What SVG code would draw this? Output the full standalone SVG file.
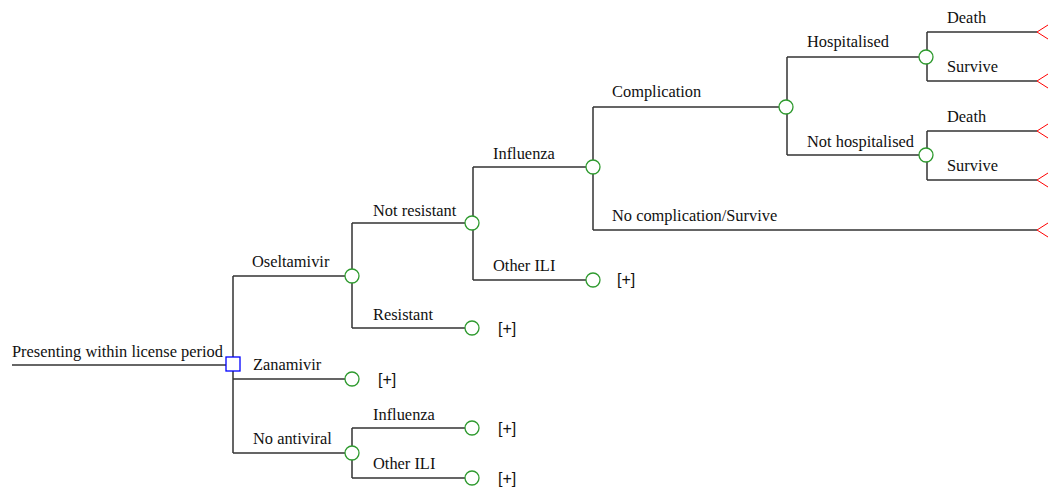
<svg xmlns="http://www.w3.org/2000/svg" width="1048" height="487" viewBox="0 0 1048 487">
<style>
.bg{fill:#ffffff}
.ln{fill:none;stroke:#333333;stroke-width:1.5}
.ch{fill:#ffffff;stroke:#2e9a2e;stroke-width:1.3}
.dc{fill:#ffffff;stroke:#0000ff;stroke-width:1.3}
.tm{fill:none;stroke:#ff0000;stroke-width:1}
.lb{font-family:"Liberation Serif","Times New Roman",serif;font-size:16.4px;fill:#111111}
.pl{font-family:"Liberation Sans",Arial,sans-serif;font-size:16px;fill:#111111}
</style>
<rect class="bg" x="0" y="0" width="1048" height="487"/>
<g id="connectors">
<path class="ln" d="M12 365H226"/>
<path class="ln" d="M233 276V453M233 276H345M233 379H345M233 453H345"/>
<path class="ln" d="M352 223V328M352 223H465M352 328H465"/>
<path class="ln" d="M473 167V280M473 167H586M473 280H586"/>
<path class="ln" d="M593 107V230M593 107H779M593 230H1037"/>
<path class="ln" d="M787 57V155M787 57H919M787 155H919"/>
<path class="ln" d="M927 32V81M927 32H1037M927 81H1037"/>
<path class="ln" d="M927 131V180M927 131H1037M927 180H1037"/>
<path class="ln" d="M352 428V478M352 428H465M352 478H465"/>
</g>
<g id="root-label"><text class="lb" x="12" y="357" textLength="211">Presenting within license period</text></g>
<g id="decision"><rect class="dc" x="226" y="357" width="14" height="14"/></g>
<g id="oseltamivir"><text class="lb" x="252" y="267">Oseltamivir</text><circle class="ch" cx="352" cy="276" r="7"/></g>
<g id="zanamivir"><text class="lb" x="253" y="370">Zanamivir</text><circle class="ch" cx="352" cy="379" r="7"/><text class="pl" x="378" y="385">[+]</text></g>
<g id="no-antiviral"><text class="lb" x="253" y="444">No antiviral</text><circle class="ch" cx="352" cy="453" r="7"/></g>
<g id="not-resistant"><text class="lb" x="373" y="216">Not resistant</text><circle class="ch" cx="472" cy="223" r="7"/></g>
<g id="resistant"><text class="lb" x="373" y="320">Resistant</text><circle class="ch" cx="472" cy="328" r="7"/><text class="pl" x="498" y="334">[+]</text></g>
<g id="influenza"><text class="lb" x="493" y="159">Influenza</text><circle class="ch" cx="593" cy="167" r="7"/></g>
<g id="other-ili"><text class="lb" x="493" y="271">Other ILI</text><circle class="ch" cx="593" cy="280" r="7"/><text class="pl" x="617" y="285">[+]</text></g>
<g id="complication"><text class="lb" x="612" y="97">Complication</text><circle class="ch" cx="786" cy="107" r="7"/></g>
<g id="no-complication"><text class="lb" x="612" y="221">No complication/Survive</text><polyline class="tm" points="1048,223 1037,230 1048,237"/></g>
<g id="hospitalised"><text class="lb" x="807" y="47">Hospitalised</text><circle class="ch" cx="926" cy="57" r="7"/></g>
<g id="not-hospitalised"><text class="lb" x="807" y="147">Not hospitalised</text><circle class="ch" cx="926" cy="155" r="7"/></g>
<g id="hosp-death"><text class="lb" x="947" y="23">Death</text><polyline class="tm" points="1048,25 1037,32 1048,39"/></g>
<g id="hosp-survive"><text class="lb" x="947" y="72">Survive</text><polyline class="tm" points="1048,74 1037,81 1048,88"/></g>
<g id="nothosp-death"><text class="lb" x="947" y="122">Death</text><polyline class="tm" points="1048,124 1037,131 1048,138"/></g>
<g id="nothosp-survive"><text class="lb" x="947" y="171">Survive</text><polyline class="tm" points="1048,173 1037,180 1048,187"/></g>
<g id="na-influenza"><text class="lb" x="373" y="420">Influenza</text><circle class="ch" cx="472" cy="428" r="7"/><text class="pl" x="498" y="434">[+]</text></g>
<g id="na-other-ili"><text class="lb" x="373" y="469">Other ILI</text><circle class="ch" cx="472" cy="478" r="7"/><text class="pl" x="498" y="484">[+]</text></g>
</svg>
